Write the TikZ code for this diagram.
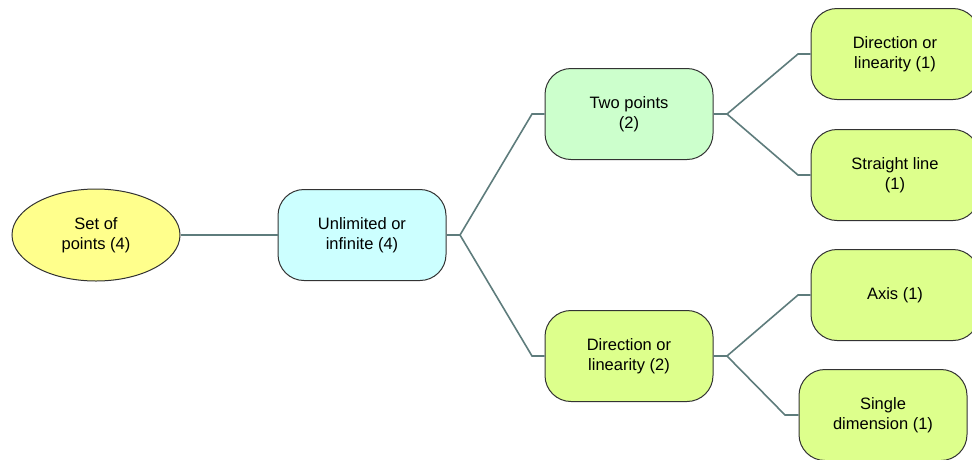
\documentclass[tikz,border=0pt]{standalone}
\usepackage{fontspec}
\setmainfont{Liberation Sans}
\usetikzlibrary{shapes.geometric}
\definecolor{linkcol}{HTML}{5E7C7C}
\definecolor{lime}{HTML}{DDFF8C}
\begin{document}
\begin{tikzpicture}[x=1pt,y=-1pt,
  box/.style={draw=black!80,line width=1pt,rounded corners=26pt,
    minimum width=168pt,minimum height=91pt,align=center,
    font=\fontsize{16.5}{20}\selectfont},
  leaf/.style={box,fill=lime},
  link/.style={draw=linkcol,line width=1.6pt}
]
\useasboundingbox (0,0) rectangle (972,459);

% root and first level
\node[draw=black!80,line width=1pt,ellipse,fill={rgb,255:red,255;green,255;blue,140},
  minimum width=168pt,minimum height=92pt,inner sep=0pt,align=center,
  font=\fontsize{16.5}{20}\selectfont] (set) at (96,235) {Set of\\points (4)};
\node[box,fill={rgb,255:red,204;green,255;blue,255}] (unl) at (362,235) {Unlimited or\\infinite (4)};

% second level
\node[box,fill={rgb,255:red,204;green,255;blue,204}] (two) at (629,114) {Two points\\(2)};
\node[leaf] (dir) at (629,356) {Direction or\\linearity (2)};

% leaves
\node[leaf] (dirone) at (895,54) {Direction or\\linearity (1)};
\node[leaf] (str) at (895,175) {Straight line\\(1)};
\node[leaf] (axis) at (895,295) {Axis (1)};
\node[leaf] (sing) at (883,415) {Single\\dimension (1)};

% branch points
\coordinate (bu) at (460,235);
\coordinate (bt) at (727,114);
\coordinate (bd) at (727,356);

\draw[link] (set) -- (unl);
\draw[link] (unl) -- (bu) -- (532,114) -- (two);
\draw[link] (bu) -- (532,356) -- (dir);
\draw[link] (two) -- (bt) -- (798,54) -- (dirone);
\draw[link] (bt) -- (798,175) -- (str);
\draw[link] (dir) -- (bd) -- (798,295) -- (axis);
\draw[link] (bd) -- (785,415) -- (sing);
\end{tikzpicture}
\end{document}
